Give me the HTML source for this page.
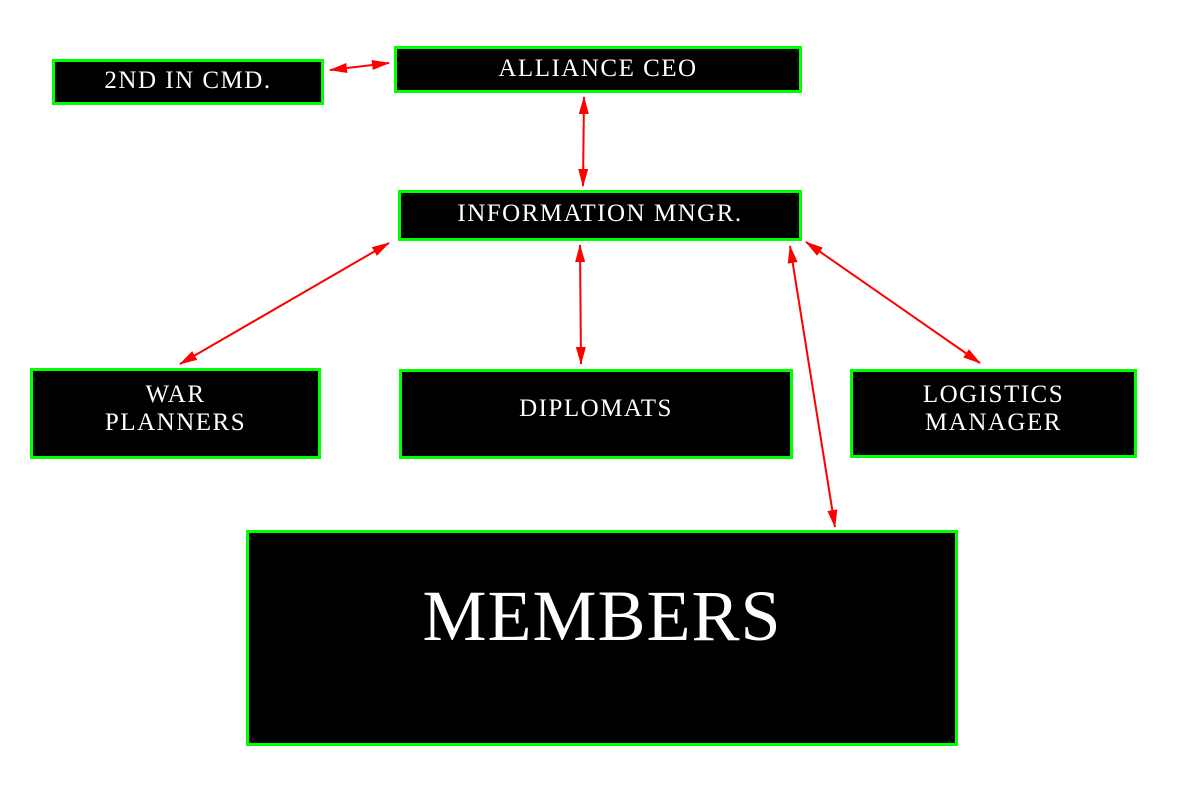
<!DOCTYPE html>
<html><head><style>
body{margin:0;width:1181px;height:787px;background:#fff;position:relative;overflow:hidden;font-family:"Liberation Serif",serif;}
.b{position:absolute;box-sizing:border-box;background:#000;border:3px solid #00ff00;color:#fff;display:flex;align-items:center;justify-content:center;text-align:center;font-size:25px;line-height:28px;letter-spacing:1.5px;}
svg{position:absolute;left:0;top:0;}
</style></head><body>
<div class="b" style="left:52px;top:59px;width:272px;height:46px;padding-bottom:2px;">2ND IN CMD.</div>
<div class="b" style="left:394px;top:46px;width:408px;height:47px;padding-bottom:2px;">ALLIANCE CEO</div>
<div class="b" style="left:398px;top:190px;width:404px;height:51px;padding-bottom:4px;">INFORMATION MNGR.</div>
<div class="b" style="left:30px;top:368px;width:291px;height:91px;padding-bottom:10px;">WAR<br>PLANNERS</div>
<div class="b" style="left:399px;top:369px;width:394px;height:90px;padding-bottom:10px;">DIPLOMATS</div>
<div class="b" style="left:850px;top:369px;width:287px;height:89px;padding-bottom:10px;">LOGISTICS<br>MANAGER</div>
<div class="b" style="left:246px;top:530px;width:712px;height:216px;font-size:72px;line-height:80px;letter-spacing:1px;align-items:flex-start;padding-top:43px;">MEMBERS</div>
<svg width="1181" height="787">
<defs><marker id="a" markerWidth="18" markerHeight="10" refX="17" refY="5" orient="auto-start-reverse" markerUnits="userSpaceOnUse"><path d="M0,0 L18,5 L0,10 z" fill="#ff0000"/></marker></defs>
<g stroke="#ff0000" stroke-width="2" fill="none" marker-start="url(#a)" marker-end="url(#a)">
<line x1="330" y1="70" x2="389" y2="63"/>
<line x1="584" y1="97" x2="583" y2="186"/>
<line x1="389" y1="243" x2="180" y2="364"/>
<line x1="580" y1="245" x2="581" y2="364"/>
<line x1="790" y1="246" x2="835" y2="527"/>
<line x1="806" y1="242" x2="980" y2="363"/>
</g></svg>
</body></html>
